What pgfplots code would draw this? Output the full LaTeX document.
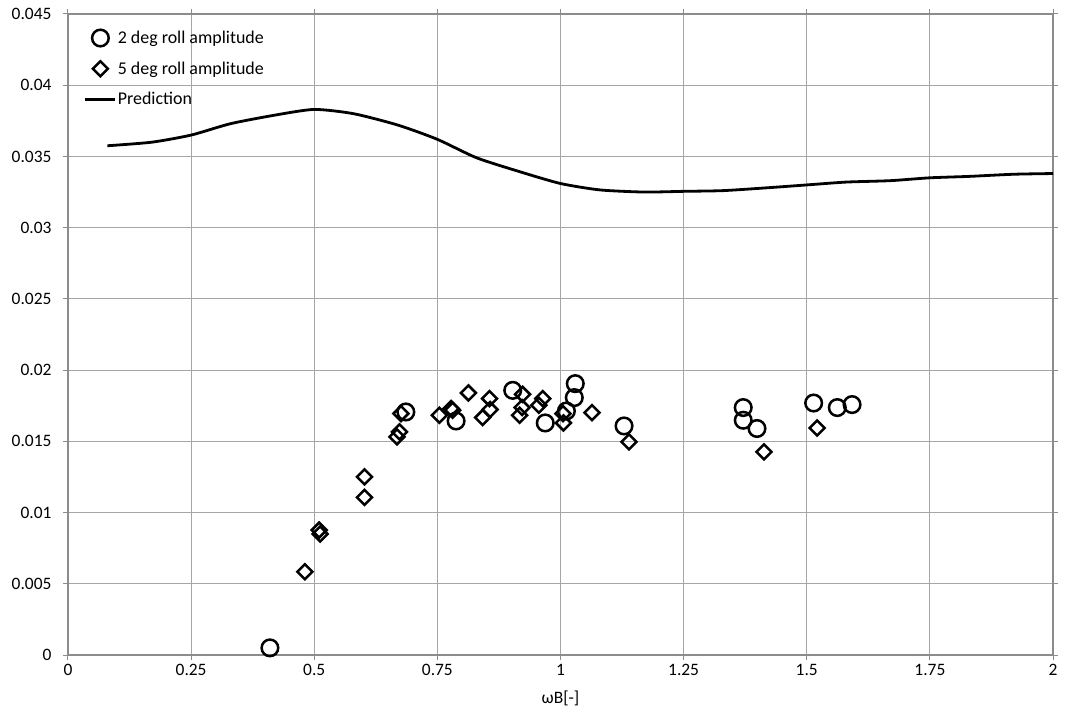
\documentclass[border=0pt]{standalone}
\usepackage{fontspec}
\setmainfont{Carlito}
\usepackage{pgfplots}
\pgfplotsset{compat=1.18}
\begin{document}
\begin{tikzpicture}
\begin{axis}[
  scale only axis, width=985bp, height=641bp,
  xmin=0, xmax=2, ymin=0, ymax=0.045,
  xtick={0,0.25,0.5,0.75,1,1.25,1.5,1.75,2},
  xticklabels={0,0.25,0.5,0.75,1,1.25,1.5,1.75,2},
  ytick={0,0.005,0.01,0.015,0.02,0.025,0.03,0.035,0.04,0.045},
  yticklabels={0,0.005,0.01,0.015,0.02,0.025,0.03,0.035,0.04,0.045},
  grid=major,
  major grid style={color=black!35, line width=0.8bp},
  axis line style={color=black!45, line width=1.2bp},
  tick style={color=black!45, line width=1bp},
  tick align=outside, major tick length=5bp,
  ticklabel style={font=\fontsize{17.5}{20}\selectfont},
  xticklabel style={yshift=-1bp},
  yticklabel style={xshift=-8bp},
  xlabel={ωB[-]},
  xlabel style={font=\fontsize{17.5}{20}\selectfont, yshift=-8bp},
  legend style={draw=none, fill=none, at={(axis cs:0.026,0.04405)}, anchor=north west,
    font=\fontsize{18}{21}\selectfont, row sep=14.5bp,
    nodes={inner sep=1bp}},
  legend cell align=left,
  legend image code/.code={\draw[mark repeat=2,mark phase=2,#1] plot coordinates {(0bp,0bp) (15bp,0bp) (30bp,0bp)};},
  clip=false,
]
\addplot[only marks, mark=o, mark size=8.3bp, mark options={line width=2.5bp, draw=black}] coordinates {
(0.41,0.0005) (0.686,0.01706) (0.788,0.01643) (0.903,0.01858) (0.969,0.01629)
(1.012,0.01713) (1.028,0.01807) (1.030,0.01905) (1.129,0.01608)
(1.371,0.01737) (1.371,0.01648) (1.399,0.0159) (1.514,0.01769) (1.562,0.01737) (1.592,0.01758)
};
\addlegendentry{2 deg roll amplitude}
\addplot[only marks, mark=square, mark size=5.3bp, mark options={line width=2.5bp, draw=black, rotate=45}] coordinates {
(0.481,0.00584) (0.510,0.00877) (0.512,0.00849) (0.602,0.0125) (0.602,0.01106)
(0.668,0.01531) (0.673,0.01566) (0.676,0.01695) (0.754,0.01683) (0.778,0.0173)
(0.781,0.01718) (0.813,0.0184) (0.856,0.018) (0.842,0.01667) (0.857,0.01723)
(0.923,0.0183) (0.922,0.01737) (0.917,0.01683) (0.956,0.01753) (0.964,0.018)
(1.005,0.01695) (1.006,0.01629) (1.064,0.01702) (1.139,0.01496)
(1.413,0.01426) (1.521,0.01594)
};
\addlegendentry{5 deg roll amplitude}
\addplot[black, line width=2.8bp, smooth, tension=0.4, mark=none] coordinates {
(0.08,0.03575) (0.17,0.0360) (0.25,0.0365) (0.33,0.0373) (0.42,0.0379) (0.5,0.0383)
(0.58,0.0380) (0.67,0.0372) (0.75,0.0362) (0.83,0.0349) (0.92,0.0339) (1.0,0.0331)
(1.08,0.03265) (1.17,0.0325) (1.25,0.03255) (1.33,0.0326) (1.42,0.0328) (1.5,0.0330)
(1.58,0.0332) (1.67,0.0333) (1.75,0.0335) (1.83,0.0336) (1.92,0.03375) (2.0,0.0338)
};
\addlegendentry{Prediction}
\coordinate (ll) at (rel axis cs:0,0);
\coordinate (ur) at (rel axis cs:1,1);
\end{axis}
\pgfresetboundingbox
\path ([shift={(-68bp,-62bp)}]ll) rectangle ([shift={(14bp,14bp)}]ur);
\end{tikzpicture}
\end{document}
